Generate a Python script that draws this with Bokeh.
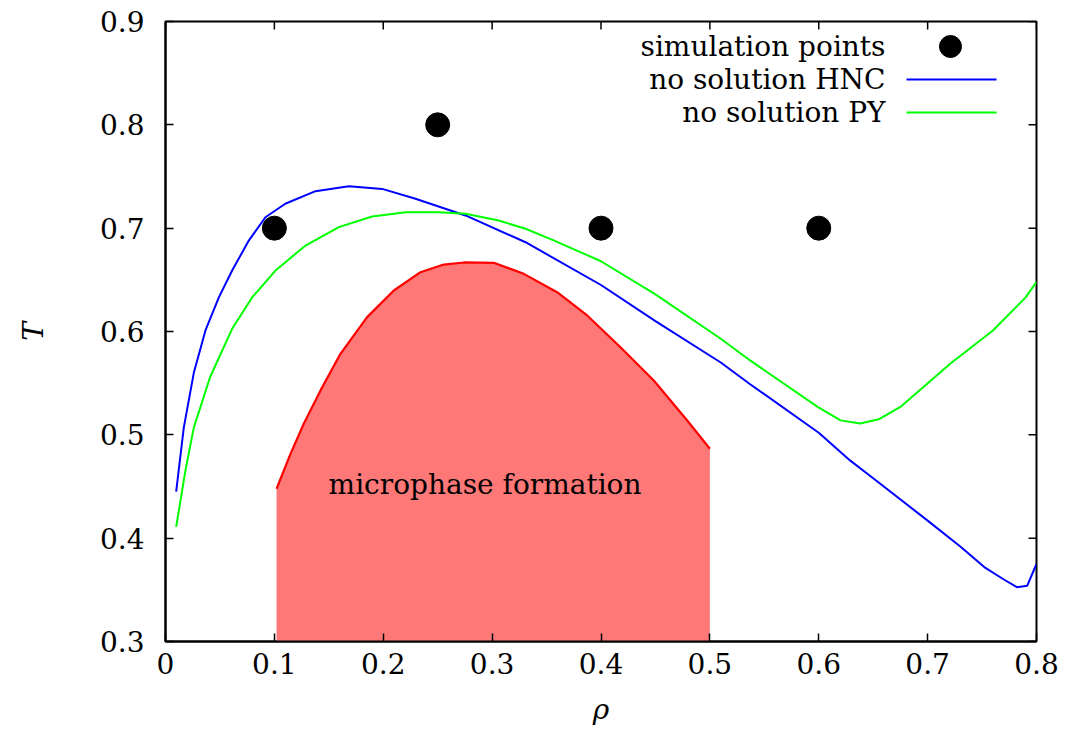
import math
from bokeh.plotting import figure
from bokeh.models import FixedTicker, Range1d
from bokeh.core.properties import value
from bokeh.embed import file_html
from bokeh.resources import INLINE

# ---- data ----
hnc_rho = [0.0098, 0.0168, 0.026, 0.0367, 0.049, 0.0612, 0.0765, 0.0918, 0.110, 0.1378,
           0.1684, 0.199, 0.2296, 0.2755, 0.3307, 0.400, 0.450, 0.510, 0.537, 0.600,
           0.629, 0.650, 0.700, 0.730, 0.752, 0.770, 0.782, 0.7915, 0.800]
hnc_T = [0.445, 0.507, 0.560, 0.601, 0.633, 0.659, 0.688, 0.7106, 0.7236, 0.7358,
         0.7406, 0.738, 0.7284, 0.7123, 0.6864, 0.645, 0.610, 0.570, 0.549, 0.502,
         0.475, 0.458, 0.417, 0.392, 0.372, 0.360, 0.3526, 0.354, 0.375]

py_rho = [0.0098, 0.0184, 0.026, 0.041, 0.0612, 0.0796, 0.101, 0.1286, 0.1592, 0.1898,
          0.2204, 0.251, 0.2755, 0.3061, 0.3307, 0.357, 0.400, 0.450, 0.510, 0.537,
          0.599, 0.620, 0.638, 0.655, 0.675, 0.721, 0.760, 0.790, 0.800]
py_T = [0.411, 0.466, 0.507, 0.556, 0.6026, 0.633, 0.659, 0.6832, 0.701, 0.7113,
        0.7155, 0.7155, 0.714, 0.7074, 0.6994, 0.688, 0.668, 0.636, 0.593, 0.572,
        0.527, 0.514, 0.511, 0.515, 0.527, 0.569, 0.601, 0.633, 0.648]

micro_rho = [0.102, 0.1148, 0.127, 0.1424, 0.1607, 0.1852, 0.2097, 0.2342, 0.2556, 0.274,
             0.3015, 0.3291, 0.3597, 0.3873, 0.4179, 0.4485, 0.4792, 0.500]
micro_T = [0.4478, 0.4816, 0.5107, 0.543, 0.5784, 0.6139, 0.6397, 0.6574, 0.6648, 0.6668,
           0.6665, 0.6558, 0.638, 0.6155, 0.5848, 0.5526, 0.5139, 0.4865]

sim_rho = [0.1, 0.25, 0.4, 0.6]
sim_T = [0.7, 0.8, 0.7, 0.7]

x_ticks = [0, 0.1, 0.2, 0.3, 0.4, 0.5, 0.6, 0.7, 0.8]
x_tick_labels = ["0", "0.1", "0.2", "0.3", "0.4", "0.5", "0.6", "0.7", "0.8"]
y_ticks = [0.3, 0.4, 0.5, 0.6, 0.7, 0.8, 0.9]
y_tick_labels = ["0.3", "0.4", "0.5", "0.6", "0.7", "0.8", "0.9"]

legend_labels = ["simulation points", "no solution HNC", "no solution PY"]
region_label = "microphase formation"

# ---- styling / layout ----
FONT = "DejaVu Serif"
FS = "28px"
X0, X1, Y0, Y1 = 0.0, 0.8, 0.3, 0.9
TICK_LEN = 8

p = figure(width=1068, height=744, x_range=Range1d(X0, X1), y_range=Range1d(Y0, Y1),
           output_backend="svg", toolbar_location=None,
           min_border_left=165, min_border_right=32, min_border_top=21, min_border_bottom=103,
           x_axis_label="ρ", y_axis_label="T")
p.grid.visible = False
p.outline_line_color = "black"
p.outline_line_width = 2
p.background_fill_color = "white"
p.border_fill_color = "white"

def style_axis(ax, ticks, labels):
    ax.ticker = FixedTicker(ticks=ticks)
    ax.major_label_overrides = {t: l for t, l in zip(ticks, labels)}
    ax.major_tick_in = TICK_LEN
    ax.major_tick_out = 0
    ax.minor_tick_line_color = None
    ax.major_tick_line_width = 1.5
    ax.major_tick_line_color = "black"
    ax.axis_line_color = "black"
    ax.axis_line_width = 2
    ax.major_label_text_font = FONT
    ax.major_label_text_font_size = FS
    ax.major_label_text_color = "black"
    ax.axis_label_text_font = FONT
    ax.axis_label_text_font_size = "28px"
    ax.axis_label_text_font_style = "italic"
    ax.axis_label_text_color = "black"

style_axis(p.xaxis[0], x_ticks, x_tick_labels)
style_axis(p.yaxis[0], y_ticks, y_tick_labels)
p.xaxis[0].major_label_standoff = 11
p.xaxis[0].axis_label_standoff = 16
p.yaxis[0].major_label_standoff = 21
p.yaxis[0].axis_label_standoff = 47

# mirror ticks on top and right (inward, fixed screen length)
p.ray(x=x_ticks, y=[Y1] * len(x_ticks), length=TICK_LEN, length_units="screen",
      angle=-math.pi / 2, line_color="black", line_width=1.5)
p.ray(x=[X1] * len(y_ticks), y=y_ticks, length=TICK_LEN, length_units="screen",
      angle=math.pi, line_color="black", line_width=1.5)

# microphase region
p.varea(x=micro_rho, y1=[Y0] * len(micro_rho), y2=micro_T, fill_color="#ff7878")
p.line(micro_rho, micro_T, line_color="#ff0000", line_width=2.2)

# curves
p.line(hnc_rho, hnc_T, line_color="#0000ff", line_width=2)
p.line(py_rho, py_T, line_color="#00ff00", line_width=2)

# simulation points
p.scatter(sim_rho, sim_T, size=24, marker="circle", fill_color="black", line_color="black")

# region label
p.text(x=[0.2935], y=[0.452], text=[region_label], text_font=value(FONT),
       text_font_size=FS, text_align="center", text_baseline="middle", text_color="black")

# legend (gnuplot style: text right-aligned, sample to its right)
leg_text_x = 0.6613
leg_rows = [0.8758, 0.8439, 0.812]
p.text(x=[leg_text_x] * 3, y=leg_rows, text=legend_labels, text_font=value(FONT),
       text_font_size=FS, text_align="right", text_baseline="middle", text_color="black")
p.scatter([0.721], [leg_rows[0]], size=22, marker="circle", fill_color="black", line_color="black")
p.segment(x0=[0.6806, 0.6806], y0=leg_rows[1:], x1=[0.7633, 0.7633], y1=leg_rows[1:],
          line_color=["#0000ff", "#00ff00"], line_width=2)

open("out.html", "w").write(file_html(p, INLINE))
